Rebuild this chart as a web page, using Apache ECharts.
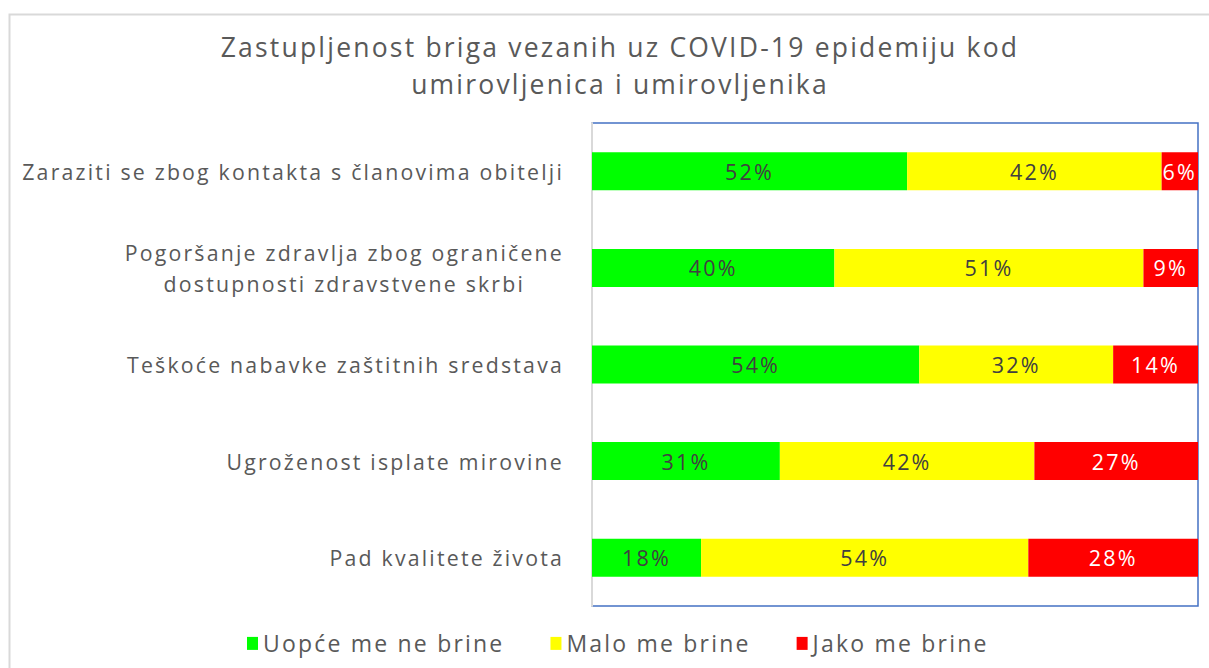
<!DOCTYPE html>
<html>
<head>
<meta charset="utf-8">
<script src="https://cdn.jsdelivr.net/npm/echarts@6/dist/echarts.min.js"></script>
<style>
  html, body { margin: 0; padding: 0; background: #fff; }
  #chart { width: 1209px; height: 668px; }
  /* Excel-ov font je širi, pa malo razmaknemo slova */
  #chart text, #chart tspan { letter-spacing: 2.2px; }
</style>
</head>
<body>
<div id="chart"></div>
<script>
// podaci
const categories = [
  'Zaraziti se zbog kontakta s članovima obitelji',
  'Pogoršanje zdravlja zbog ograničene\ndostupnosti zdravstvene skrbi',
  'Teškoće nabavke zaštitnih sredstava',
  'Ugroženost isplate mirovine',
  'Pad kvalitete života'
];
const seriesNames = ['Uopće me ne brine', 'Malo me brine', 'Jako me brine'];
const uopce = [52, 40, 54, 31, 18];
const malo = [42, 51, 32, 42, 54];
const jako = [6, 9, 14, 27, 28];

const fontFam = '"Open Sans", sans-serif';
const colors = ['#00FF00', '#FFFF00', '#FF0000'];
const labelColors = ['#404040', '#404040', '#ffffff'];
const letterSp = 2.2;

// mjerenje teksta mora znati za razmak slova, inače poravnanje ne štima
const mctx = document.createElement('canvas').getContext('2d');
echarts.setPlatformAPI({
  measureText: (text, font) => {
    mctx.font = font || '12px sans-serif';
    text = text || '';
    return { width: mctx.measureText(text).width + text.length * letterSp };
  }
});

let myChart = echarts.init(document.getElementById('chart'), null, { renderer: 'svg' });

const mkSeries = (name, data, i) => ({
  name: name,
  type: 'bar',
  stack: 'total',
  barWidth: 38,
  itemStyle: { color: colors[i] },
  label: {
    show: true,
    position: 'inside',
    formatter: '{c}%',
    color: labelColors[i],
    fontFamily: fontFam,
    fontSize: 21.5
  },
  data: data
});

myChart.setOption({
  animation: false,
  title: {
    text: 'Zastupljenost briga vezanih uz COVID-19 epidemiju kod\numirovljenica i umirovljenika',
    left: 615,
    textAlign: 'center',
    top: 23,
    textStyle: {
      fontFamily: fontFam,
      fontWeight: 'normal',
      fontSize: 26.5,
      lineHeight: 37,
      color: '#595959'
    }
  },
  legend: {
    bottom: 7,
    left: 242,
    itemWidth: 11,
    itemHeight: 13,
    itemGap: 46,
    icon: 'rect',
    textStyle: { fontFamily: fontFam, fontSize: 23, color: '#595959' },
    data: seriesNames
  },
  graphic: [{
    type: 'rect',
    shape: { x: 9.5, y: 14.5, width: 1220, height: 680 },
    style: { fill: 'none', stroke: '#d9d9d9', lineWidth: 2 },
    silent: true
  }],
  grid: {
    left: 592,
    right: 11,
    top: 123,
    bottom: 62,
    show: true,
    borderColor: '#4472C4',
    borderWidth: 1.5
  },
  xAxis: {
    type: 'value',
    min: 0,
    max: 100,
    show: false,
    splitLine: { show: false }
  },
  yAxis: {
    type: 'category',
    inverse: true,
    data: categories,
    axisTick: { show: false },
    axisLine: { show: true, lineStyle: { color: '#d9d9d9', width: 2 } },
    axisLabel: {
      margin: 28,
      fontFamily: fontFam,
      fontSize: 21.3,
      color: '#595959',
      lineHeight: 31,
      formatter: v => v.split('\n').map(l => '{c|' + l + '}').join('\n'),
      rich: {
        c: { align: 'center', fontFamily: fontFam, fontSize: 21.3, color: '#595959', lineHeight: 31 }
      }
    }
  },
  series: [
    mkSeries(seriesNames[0], uopce, 0),
    mkSeries(seriesNames[1], malo, 1),
    mkSeries(seriesNames[2], jako, 2)
  ]
});
</script>
</body>
</html>
